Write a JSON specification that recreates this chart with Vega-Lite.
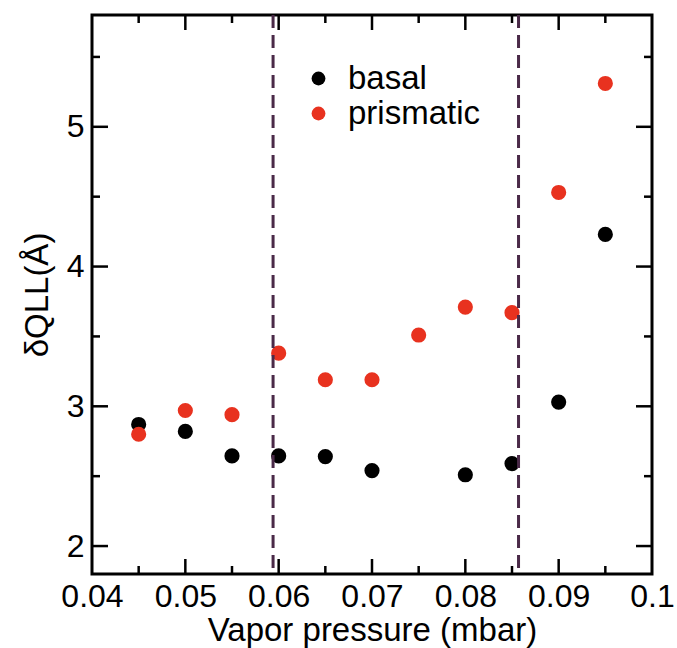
{
  "$schema": "https://vega.github.io/schema/vega-lite/v6.json",
  "autosize": "none",
  "width": 560,
  "height": 559,
  "padding": {"left": 92, "top": 15, "right": 25, "bottom": 74},
  "background": "white",
  "config": {
    "font": "Liberation Sans",
    "view": {"stroke": "black", "strokeWidth": 3},
    "axis": {"grid": false, "domain": false, "ticks": false, "labelColor": "black", "titleColor": "black", "labelFont": "Liberation Sans", "titleFont": "Liberation Sans", "labelFontSize": 32, "titleFontSize": 33, "titleFontWeight": "normal"}
  },
  "datasets": {
    "pts": [
      {"p": 0.045, "d": 2.87, "s": "basal"},
      {"p": 0.05, "d": 2.82, "s": "basal"},
      {"p": 0.055, "d": 2.645, "s": "basal"},
      {"p": 0.06, "d": 2.645, "s": "basal"},
      {"p": 0.065, "d": 2.64, "s": "basal"},
      {"p": 0.07, "d": 2.54, "s": "basal"},
      {"p": 0.08, "d": 2.51, "s": "basal"},
      {"p": 0.085, "d": 2.59, "s": "basal"},
      {"p": 0.09, "d": 3.03, "s": "basal"},
      {"p": 0.095, "d": 4.23, "s": "basal"},
      {"p": 0.045, "d": 2.80, "s": "prismatic"},
      {"p": 0.05, "d": 2.97, "s": "prismatic"},
      {"p": 0.055, "d": 2.94, "s": "prismatic"},
      {"p": 0.06, "d": 3.38, "s": "prismatic"},
      {"p": 0.065, "d": 3.19, "s": "prismatic"},
      {"p": 0.07, "d": 3.19, "s": "prismatic"},
      {"p": 0.075, "d": 3.51, "s": "prismatic"},
      {"p": 0.08, "d": 3.71, "s": "prismatic"},
      {"p": 0.085, "d": 3.67, "s": "prismatic"},
      {"p": 0.09, "d": 4.53, "s": "prismatic"},
      {"p": 0.095, "d": 5.31, "s": "prismatic"}
    ],
    "lines": [{"p": 0.0594}, {"p": 0.0857}],
    "xmaj": [
      {"p": 0.05, "d": 1.8}, {"p": 0.06, "d": 1.8}, {"p": 0.07, "d": 1.8}, {"p": 0.08, "d": 1.8}, {"p": 0.09, "d": 1.8},
      {"p": 0.05, "d": 5.8}, {"p": 0.06, "d": 5.8}, {"p": 0.07, "d": 5.8}, {"p": 0.08, "d": 5.8}, {"p": 0.09, "d": 5.8}
    ],
    "xmin": [
      {"p": 0.045, "d": 1.8}, {"p": 0.055, "d": 1.8}, {"p": 0.065, "d": 1.8}, {"p": 0.075, "d": 1.8}, {"p": 0.085, "d": 1.8}, {"p": 0.095, "d": 1.8},
      {"p": 0.045, "d": 5.8}, {"p": 0.055, "d": 5.8}, {"p": 0.065, "d": 5.8}, {"p": 0.075, "d": 5.8}, {"p": 0.085, "d": 5.8}, {"p": 0.095, "d": 5.8}
    ],
    "ymaj": [
      {"p": 0.04, "d": 2}, {"p": 0.04, "d": 3}, {"p": 0.04, "d": 4}, {"p": 0.04, "d": 5},
      {"p": 0.1, "d": 2}, {"p": 0.1, "d": 3}, {"p": 0.1, "d": 4}, {"p": 0.1, "d": 5}
    ],
    "ymin": [
      {"p": 0.04, "d": 2.5}, {"p": 0.04, "d": 3.5}, {"p": 0.04, "d": 4.5}, {"p": 0.04, "d": 5.5},
      {"p": 0.1, "d": 2.5}, {"p": 0.1, "d": 3.5}, {"p": 0.1, "d": 4.5}, {"p": 0.1, "d": 5.5}
    ]
  },
  "layer": [
    {
      "data": {"name": "pts"},
      "mark": {"type": "circle", "size": 230, "opacity": 1},
      "encoding": {
        "x": {"field": "p", "type": "quantitative", "scale": {"domain": [0.04, 0.1], "nice": false, "zero": false},
              "axis": {"orient": "bottom", "values": [0.04, 0.05, 0.06, 0.07, 0.08, 0.09, 0.1], "format": "~g", "labelPadding": 7, "title": "Vapor pressure (mbar)", "titlePadding": 2, "labelFlush": false}},
        "y": {"field": "d", "type": "quantitative", "scale": {"domain": [1.8, 5.8], "nice": false, "zero": false},
              "axis": {"orient": "left", "values": [2, 3, 4, 5], "format": "d", "labelPadding": 8, "title": "δQLL(Å)", "titlePadding": 12}},
        "color": {"field": "s", "type": "nominal", "scale": {"domain": ["basal", "prismatic"], "range": ["#000000", "#e8321f"]},
                  "legend": {"orient": "none", "legendX": 210, "legendY": 47, "title": null, "padding": 0, "symbolType": "circle", "symbolSize": 190, "labelFontSize": 33, "labelFont": "Liberation Sans", "labelColor": "black", "labelOffset": 13, "rowPadding": 1, "symbolStrokeWidth": 0}}
      }
    },
    {
      "data": {"name": "lines"},
      "mark": {"type": "rule", "color": "#4a2a48", "strokeWidth": 3, "strokeDash": [13, 7]},
      "encoding": {
        "x": {"field": "p", "type": "quantitative", "axis": null}
      }
    },
    {
      "data": {"name": "xmaj"},
      "mark": {"type": "tick", "orient": "vertical", "size": 30, "thickness": 2.5, "color": "black", "opacity": 1, "clip": true},
      "encoding": {
        "x": {"field": "p", "type": "quantitative", "axis": null},
        "y": {"field": "d", "type": "quantitative", "axis": null}
      }
    },
    {
      "data": {"name": "xmin"},
      "mark": {"type": "tick", "orient": "vertical", "size": 16, "thickness": 2.5, "color": "black", "opacity": 1, "clip": true},
      "encoding": {
        "x": {"field": "p", "type": "quantitative", "axis": null},
        "y": {"field": "d", "type": "quantitative", "axis": null}
      }
    },
    {
      "data": {"name": "ymaj"},
      "mark": {"type": "tick", "orient": "horizontal", "size": 32, "thickness": 2.5, "color": "black", "opacity": 1, "clip": true},
      "encoding": {
        "x": {"field": "p", "type": "quantitative", "axis": null},
        "y": {"field": "d", "type": "quantitative", "axis": null}
      }
    },
    {
      "data": {"name": "ymin"},
      "mark": {"type": "tick", "orient": "horizontal", "size": 16, "thickness": 2.5, "color": "black", "opacity": 1, "clip": true},
      "encoding": {
        "x": {"field": "p", "type": "quantitative", "axis": null},
        "y": {"field": "d", "type": "quantitative", "axis": null}
      }
    }
  ],
  "resolve": {"axis": {"x": "independent", "y": "independent"}}
}
